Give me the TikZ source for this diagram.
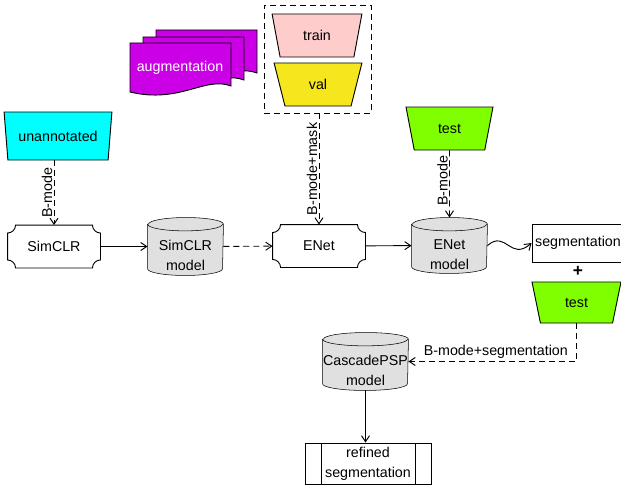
\documentclass[tikz,border=0pt]{standalone}
\usepackage{fontspec}
\setmainfont{Liberation Sans}
\usepackage{tikz}
\usetikzlibrary{arrows.meta,shapes.geometric,backgrounds}
\definecolor{unann_cyan}{RGB}{0,255,255}
\definecolor{train_pink}{RGB}{255,204,204}
\definecolor{val_yellow}{RGB}{245,230,30}
\definecolor{test_green}{RGB}{128,255,0}
\definecolor{aug_purple}{RGB}{204,0,230}
\definecolor{model_gray}{RGB}{224,224,224}

% frame with concave corners round a trainer node
\newcommand{\plaqueframe}[1]{%
  \draw[-] ([xshift=6pt]#1.north west) -- ([xshift=-6pt]#1.north east)
    arc[start angle=180,end angle=270,radius=6pt] -- ([yshift=6pt]#1.south east)
    arc[start angle=90,end angle=180,radius=6pt] -- ([xshift=6pt]#1.south west)
    arc[start angle=0,end angle=90,radius=6pt] -- ([yshift=-6pt]#1.north west)
    arc[start angle=270,end angle=360,radius=6pt] -- cycle;}

% cylinder behind a model node (node name, half width)
\newcommand{\cylinderframe}[2]{%
  \begin{scope}[on background layer]
  \filldraw[-, fill=model_gray] ([yshift=-5pt]#1.north west) -- ([yshift=5pt]#1.south west)
    arc[start angle=180,end angle=360,x radius=#2,y radius=5pt] -- ([yshift=-5pt]#1.north east)
    arc[start angle=0,end angle=180,x radius=#2,y radius=5pt] -- cycle;
  \draw[-] ([yshift=-5pt]#1.north west) arc[start angle=180,end angle=360,x radius=#2,y radius=5pt];
  \end{scope}}

\begin{document}
\begin{tikzpicture}[->,>={Straight Barb[length=4.5pt,width=6pt]},x=0.75pt,y=0.75pt,line width=0.7pt,
    every node/.style={font=\fontsize{10.7pt}{15pt}\selectfont}]
    \tikzstyle{dataset}=[draw, trapezium, shape border rotate=180, trapezium left angle=74,
      trapezium right angle=74, trapezium stretches=true, inner sep=0pt]
    \tikzstyle{trainer}=[minimum width=69pt, minimum height=31.5pt, inner sep=0pt]
    \tikzstyle{model}=[rectangle, minimum width=56.25pt, minimum height=42.75pt, inner sep=0pt]
    \tikzstyle{model text}=[align=center, yshift=-7pt]
    \tikzstyle{process}=[draw, rectangle, align=center, inner sep=0pt,
      path picture={\draw[-] ([xshift=12pt]path picture bounding box.north west) -- ([xshift=12pt]path picture bounding box.south west);
        \draw[-] ([xshift=-12pt]path picture bounding box.north east) -- ([xshift=-12pt]path picture bounding box.south east);}]
    \tikzstyle{flow}=[dash pattern=on 4.5pt off 3pt]

    \useasboundingbox (0,0) rectangle (621,-485);

    % augmentation stack
    \filldraw[-, fill=aug_purple, shift={(26,13)}] (130,-43) -- (231,-43) -- (231,-86)
      .. controls (205,-76) and (180,-104) .. (130,-92) -- cycle;
    \filldraw[-, fill=aug_purple, shift={(13,6)}] (130,-43) -- (231,-43) -- (231,-86)
      .. controls (205,-76) and (180,-104) .. (130,-92) -- cycle;
    \filldraw[-, fill=aug_purple] (130,-43) -- (231,-43) -- (231,-86)
      .. controls (205,-76) and (180,-104) .. (130,-92) -- cycle;
    \node[text=white] (aug) at (180,-68) {augmentation};

    \node[dataset, fill=unann_cyan, minimum width=81pt, minimum height=36pt] (unann) at (58,-136) {unannotated};
    \node[trainer] (simclr) at (54,-246.5) {SimCLR};
    \node[model, label={[model text]center:SimCLR\\model}] (simclrm) at (185.5,-246.5) {};

    \node[draw, flow, minimum width=80.25pt, minimum height=81pt, inner sep=0pt] (split) at (317.5,-59) {};
    \node[dataset, fill=train_pink, minimum width=67.5pt, minimum height=32.25pt] (train) at (317,-35.5) {train};
    \node[dataset, fill=val_yellow, minimum width=66pt, minimum height=32.25pt] (val) at (318,-84.5) {val};
    \node[trainer] (enet) at (319,-246) {ENet};
    \node[model, minimum height=41.25pt, label={[model text]center:ENet\\model}] (enetm) at (449.5,-245.5) {};
    \node[dataset, fill=test_green, minimum width=65.25pt, minimum height=32.25pt] (test) at (449.5,-128.5) {test};

    \node[draw, minimum width=69pt, minimum height=28.5pt, inner sep=2pt] (seg) at (578,-243) {segmentation};
    \node[font=\fontsize{13pt}{14pt}\selectfont\bfseries] (plus) at (578,-271) {+};
    \node[dataset, fill=test_green, minimum width=66.75pt, minimum height=30.75pt] (test2) at (576.5,-302.5) {test};
    \node[model, minimum width=63.75pt, label={[model text]center:CascadePSP\\model}] (cpsp) at (365.5,-361.5) {};
    \node[process, minimum width=94.5pt, minimum height=30.75pt] (refined) at (368,-463.5) {refined\\segmentation};

    \plaqueframe{simclr}
    \plaqueframe{enet}
    \cylinderframe{simclrm}{28.125pt}
    \cylinderframe{enetm}{28.125pt}
    \cylinderframe{cpsp}{31.875pt}

    \path
     (unann.south -| simclr.north) edge[flow] node[midway, rotate=90, anchor=south, inner sep=1pt] {B-mode} (simclr.north)
     (simclr) edge[] (simclrm)
     (simclrm) edge[flow] (enet)
     (split.south -| enet.north) edge[flow] node[midway, rotate=90, anchor=south, inner sep=1pt] {B-mode+mask} (enet.north)
     (enet) edge[] (enetm)
     (test) edge[flow] node[pos=0.45, rotate=90, anchor=south, inner sep=1pt] {B-mode} (enetm.north)
     (cpsp.south) edge[] (cpsp.south |- refined.north)
     ;
    \draw (enetm.east) .. controls +(14pt,12pt) and +(-16pt,-14pt) .. (seg.west);
    \draw[flow] (test2.south) |- node[pos=0.74, above, inner sep=2pt] {B-mode+segmentation} (cpsp.east);
  \end{tikzpicture}
\end{document}
